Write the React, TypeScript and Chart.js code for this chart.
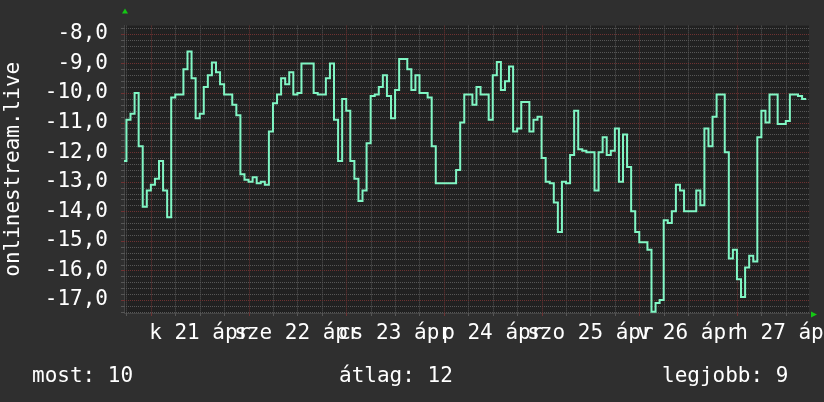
import React, { useEffect, useRef } from 'react';
import { Chart, registerables } from 'chart.js';

Chart.register(...registerables);

// Hours relative to Apr 21 00:00; one value per hour (held until the next hour)
const START_HOUR = -7;
const X_MIN = -6.6;
const X_MAX = 161.7;
const Y_MIN = -17.44;
const Y_MAX = -7.72;

const day20 = [-10.6, -12.3, -10.9, -10.7, -10.0, -11.8, -13.85];
const day21 = [-13.3, -13.1, -12.9, -12.3, -13.3, -14.2, -10.15, -10.05, -10.05, -9.2, -8.6, -9.5, -10.85, -10.7, -9.8, -9.4, -8.97, -9.3, -9.7, -10.05, -10.05, -10.4, -10.75, -12.75];
const day22 = [-12.93, -13.0, -12.85, -13.05, -13.0, -13.1, -11.3, -10.35, -10.05, -9.5, -9.7, -9.3, -10.05, -10.0, -9.0, -9.0, -9.0, -10.0, -10.05, -10.05, -9.5, -9.0, -10.9, -12.3];
const day23 = [-10.2, -10.6, -12.3, -12.9, -13.65, -13.3, -11.7, -10.1, -10.05, -9.8, -9.4, -10.1, -10.85, -9.9, -8.85, -8.85, -9.2, -9.9, -9.4, -10.0, -10.0, -10.15, -11.8, -13.05];
const day24 = [-13.05, -13.05, -13.05, -13.05, -12.6, -11.0, -10.05, -10.05, -10.4, -9.8, -10.05, -10.05, -10.9, -9.4, -8.95, -9.9, -9.6, -9.1, -11.3, -11.2, -10.3, -10.3, -11.3, -10.9];
const day25 = [-10.8, -12.2, -13.0, -13.05, -13.7, -14.7, -13.0, -13.05, -12.1, -10.6, -11.9, -11.95, -12.0, -12.0, -13.3, -12.0, -11.5, -12.1, -11.95, -11.2, -13.0, -11.4, -12.5, -14.0];
const day26 = [-14.7, -15.05, -15.05, -15.3, -17.4, -17.1, -17.0, -14.3, -14.4, -14.0, -13.1, -13.3, -14.0, -14.0, -14.0, -13.3, -13.8, -11.2, -11.8, -10.8, -10.05, -10.05, -12.0, -15.6];
const day27 = [-15.3, -16.3, -16.9, -15.9, -15.5, -15.7, -11.5, -10.6, -11.0, -10.05, -10.05, -11.05, -11.05, -10.95, -10.05, -10.05, -10.1, -10.2];

const dayNames = ['k', 'sze', 'cs', 'p', 'szo', 'v', 'h'];
const dayNumbers = [21, 22, 23, 24, 25, 26, 27];
const monthAbbr = 'ápr';
const labelHours = [12, 36, 60, 84, 108, 132, 156];
const xGridHours = [-6, 0, 6, 12, 18, 24, 30, 36, 42, 48, 54, 60, 66, 72, 78, 84, 90, 96, 102, 108, 114, 120, 126, 132, 138, 144, 150, 156];
const yMinorStep = 0.2;

const legendLabels = ['most', 'átlag', 'legjobb'];
const legendValues = [10, 12, 9];
const legendX = [32, 339, 662];
const axisTitle = 'onlinestream.live';

const FONT = '"DejaVu Sans Mono", monospace';
const BG = '#2f2f2f';
const PLOT_BG = '#212121';
const LINE = '#80f6c4';
const MINOR = '#565656';
const MAJOR = '#6e3232';
const AXIS = '#444444';
const TEXT = '#ffffff';
const ARROW = '#14c814';

export default function App() {
  const ref = useRef<HTMLCanvasElement | null>(null);

  useEffect(() => {
    const canvas = ref.current;
    if (!canvas) return;
    const values = [...day20, ...day21, ...day22, ...day23, ...day24, ...day25, ...day26, ...day27];
    const points = values.map((v, i) => ({ x: START_HOUR + i, y: v }));

    const isMajorY = (v: number) => Math.abs(v - Math.round(v)) < 1e-6;
    const isMajorX = (v: number) => Math.abs(v % 24) < 1e-6;

    const bgPlugin = {
      id: 'bg',
      beforeDraw(chart: any) {
        const { ctx, chartArea } = chart;
        ctx.save();
        ctx.fillStyle = BG;
        ctx.fillRect(0, 0, chart.width, chart.height);
        ctx.fillStyle = PLOT_BG;
        ctx.fillRect(chartArea.left, chartArea.top, chartArea.right - chartArea.left, chartArea.bottom - chartArea.top);
        ctx.restore();
      },
    };

    // dotted grid drawn from the scales' own ticks
    const gridPlugin = {
      id: 'dottedGrid',
      beforeDatasetsDraw(chart: any) {
        const { ctx, chartArea } = chart;
        const xs = chart.scales.x;
        const ys = chart.scales.y;
        ctx.save();
        ctx.lineWidth = 1;
        const drawSet = (major: boolean) => {
          ys.ticks.forEach((t: any) => {
            if (isMajorY(t.value) !== major) return;
            const y = Math.round(ys.getPixelForValue(t.value)) + 0.5;
            ctx.strokeStyle = major ? MAJOR : MINOR;
            ctx.setLineDash([1, 1]);
            ctx.beginPath();
            ctx.moveTo(chartArea.left, y);
            ctx.lineTo(chartArea.right, y);
            ctx.stroke();
            ctx.setLineDash([]);
            ctx.beginPath();
            ctx.moveTo(chartArea.left - 3, y);
            ctx.lineTo(chartArea.left, y);
            ctx.stroke();
          });
          xs.ticks.forEach((t: any) => {
            if (isMajorX(t.value) !== major) return;
            const x = Math.round(xs.getPixelForValue(t.value)) + 0.5;
            ctx.strokeStyle = major ? MAJOR : MINOR;
            ctx.setLineDash([1, 1]);
            ctx.beginPath();
            ctx.moveTo(x, chartArea.top);
            ctx.lineTo(x, chartArea.bottom);
            ctx.stroke();
            ctx.setLineDash([]);
            ctx.beginPath();
            ctx.moveTo(x, chartArea.bottom);
            ctx.lineTo(x, chartArea.bottom + 3);
            ctx.stroke();
          });
        };
        drawSet(false);
        drawSet(true);
        ctx.restore();
      },
    };

    const textPlugin = {
      id: 'texts',
      afterDraw(chart: any) {
        const { ctx, chartArea } = chart;
        const xs = chart.scales.x;
        ctx.save();
        ctx.fillStyle = TEXT;
        ctx.font = `21px ${FONT}`;
        ctx.textAlign = 'center';
        ctx.textBaseline = 'alphabetic';
        labelHours.forEach((h, i) => {
          ctx.fillText(`${dayNames[i]} ${dayNumbers[i]} ${monthAbbr}`, xs.getPixelForValue(h), 339);
        });
        ctx.textAlign = 'left';
        legendLabels.forEach((l, i) => {
          ctx.fillText(`${l}: ${legendValues[i]}`, legendX[i], 382);
        });
        ctx.save();
        ctx.translate(18.5, (chartArea.top + chartArea.bottom) / 2);
        ctx.rotate(-Math.PI / 2);
        ctx.textAlign = 'center';
        ctx.fillText(axisTitle, 0, 0);
        ctx.restore();
        ctx.fillStyle = ARROW;
        ctx.beginPath();
        ctx.moveTo(chartArea.left + 1, 8.5);
        ctx.lineTo(chartArea.left - 2, 13.5);
        ctx.lineTo(chartArea.left + 4, 13.5);
        ctx.closePath();
        ctx.fill();
        ctx.beginPath();
        ctx.moveTo(chartArea.right + 8, chartArea.bottom + 1.5);
        ctx.lineTo(chartArea.right + 2, chartArea.bottom - 1.5);
        ctx.lineTo(chartArea.right + 2, chartArea.bottom + 4.5);
        ctx.closePath();
        ctx.fill();
        ctx.restore();
      },
    };

    const chart = new Chart(canvas, {
      type: 'line',
      data: {
        datasets: [
          {
            data: points,
            borderColor: LINE,
            borderWidth: 2,
            pointRadius: 0,
            stepped: 'after',
            fill: false,
          } as any,
        ],
      },
      options: {
        animation: false,
        responsive: false,
        devicePixelRatio: 1,
        events: [],
        layout: { padding: { top: 15, right: 15, left: 0, bottom: 0 } },
        plugins: { legend: { display: false }, tooltip: { enabled: false } },
        scales: {
          x: {
            type: 'linear',
            min: X_MIN,
            max: X_MAX,
            afterBuildTicks: (s: any) => {
              s.ticks = xGridHours.map((v) => ({ value: v }));
            },
            afterFit: (s: any) => {
              s.height = 89;
            },
            ticks: { display: false, autoSkip: false },
            grid: { color: 'rgba(0,0,0,0)', drawTicks: true, tickLength: 3 },
            border: { display: true, color: AXIS, width: 1 },
          },
          y: {
            type: 'linear',
            min: Y_MIN,
            max: Y_MAX,
            afterBuildTicks: (s: any) => {
              const t: any[] = [];
              const n0 = Math.ceil(Y_MIN / yMinorStep);
              const n1 = Math.floor(Y_MAX / yMinorStep);
              for (let k = n0; k <= n1; k++) t.push({ value: Math.round(k * yMinorStep * 10) / 10 });
              s.ticks = t;
            },
            afterFit: (s: any) => {
              s.width = 124;
            },
            ticks: {
              autoSkip: false,
              padding: 13,
              color: TEXT,
              font: { family: FONT, size: 21 },
              callback: (v: any) => (isMajorY(Number(v)) ? Number(v).toFixed(1).replace('.', ',') : ''),
            },
            grid: { color: 'rgba(0,0,0,0)', drawTicks: true, tickLength: 3 },
            border: { display: true, color: AXIS, width: 1 },
          },
        },
      } as any,
      plugins: [bgPlugin, gridPlugin, textPlugin],
    });

    return () => chart.destroy();
  }, []);

  return (
    <div style={{ position: 'absolute', left: 0, top: 0, width: 824, height: 402 }}>
      <canvas ref={ref} width={824} height={402} style={{ display: 'block' }} />
    </div>
  );
}
